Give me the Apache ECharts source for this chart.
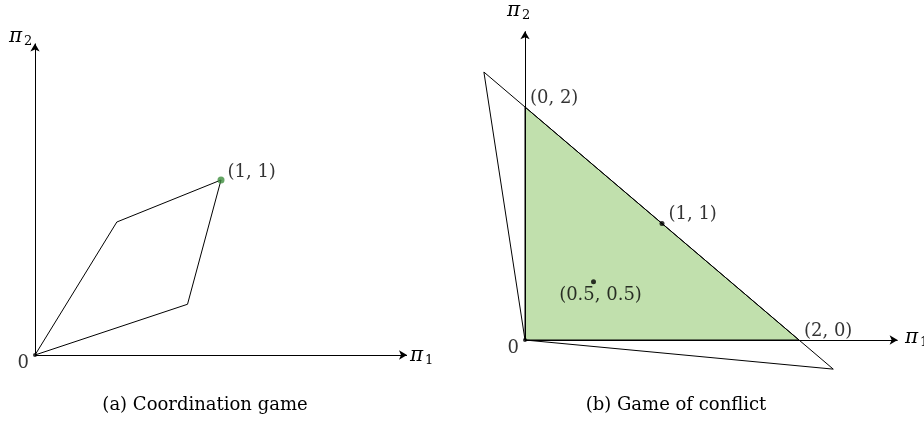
<!DOCTYPE html>
<html>
<head>
<meta charset="utf-8">
<title>Payoff regions</title>
<script src="https://cdn.jsdelivr.net/npm/echarts@6/dist/echarts.min.js"></script>
<style>
  html, body { margin: 0; padding: 0; background: #ffffff; }
  #chart { width: 924px; height: 424px; }
</style>
</head>
<body>
<div id="chart"></div>
<script>
// (a) Coordination game: payoff polygon and the equilibrium point
const coordPolygon = [[0, 0], [0.44, 0.76], [1, 1], [0.82, 0.29]];
const coordEquilibrium = [[1, 1]];
const coordAxisEnds = [2.0, 1.78];           // arrow tips of π1 / π2 axes

// (b) Game of conflict: feasible (shaded) triangle, outer triangle, marked points
const conflictShaded = [[0, 0], [0, 2], [2, 0]];
const conflictOuter = [[0, 0], [-0.3, 2.3], [2.25, -0.25]];
const conflictCorners = [[0, 2], [2, 0]];
const conflictCornerLabels = ['(0, 2)', '(2, 0)'];
const conflictPoints = [[1, 1], [0.5, 0.5]];
const conflictPointLabels = ['(1, 1)', '(0.5, 0.5)'];
const conflictAxisEnds = [2.72, 2.65];

const captions = ['(a) Coordination game', '(b) Game of conflict'];
const axisSymbol = 'π';
const axisIndices = ['1', '2'];

const FONT = 'DejaVu Serif';
const LABEL_SIZE = 18;

const chart = echarts.init(document.getElementById('chart'), null, { renderer: 'canvas' });

function hiddenAxis(gridIndex, min, max) {
  return {
    type: 'value', gridIndex, min, max,
    axisLine: { show: false }, axisTick: { show: false },
    axisLabel: { show: false }, splitLine: { show: false }
  };
}

function polygonSeries(idx, points, style, z) {
  return {
    type: 'custom', xAxisIndex: idx, yAxisIndex: idx, z,
    silent: true, animation: false,
    data: [0],
    renderItem: (params, api) => ({
      type: 'polygon',
      shape: { points: points.map(p => api.coord(p)) },
      style
    })
  };
}

// axis arrows drawn from the origin
function axisArrows(idx, ends) {
  return {
    type: 'line', xAxisIndex: idx, yAxisIndex: idx, data: [], z: 5,
    markLine: {
      silent: true, animation: false,
      symbol: ['none', 'arrow'], symbolSize: [7, 8],
      label: { show: false },
      lineStyle: { color: '#000', width: 1, type: 'solid' },
      data: [
        [{ coord: [0, 0] }, { coord: [ends[0], 0] }],
        [{ coord: [0, 0] }, { coord: [0, ends[1]] }]
      ]
    }
  };
}

function textLabel(text, extra) {
  return Object.assign({
    show: true, formatter: text, color: '#000',
    fontFamily: FONT, fontSize: LABEL_SIZE
  }, extra);
}

// π with a subscript index, placed by the left edge and vertical centre of π
function axisName(x, y, index) {
  return [
    { type: 'text', x, y, style: { text: axisSymbol, font: 'italic 20px "' + FONT + '"', fill: '#000', verticalAlign: 'middle' } },
    { type: 'text', x: x + 15, y: y + 5, style: { text: index, font: '13px "' + FONT + '"', fill: '#000', verticalAlign: 'middle' } }
  ];
}

const option = {
  backgroundColor: '#ffffff',
  animation: false,
  grid: [
    { left: 35, width: 372, top: 40, height: 315 },            // x 0..2, y 0..1.8
    { left: 470.2, width: 438.4, top: 13.8, height: 372.8 }    // x -0.4..2.8, y -0.4..2.8
  ],
  xAxis: [hiddenAxis(0, 0, 2), hiddenAxis(1, -0.4, 2.8)],
  yAxis: [hiddenAxis(0, 0, 1.8), hiddenAxis(1, -0.4, 2.8)],
  series: [
    // ---- panel (a)
    polygonSeries(0, coordPolygon, { fill: 'none', stroke: '#000', lineWidth: 1 }, 3),
    axisArrows(0, coordAxisEnds),
    {
      type: 'scatter', xAxisIndex: 0, yAxisIndex: 0, z: 10,
      data: coordEquilibrium, symbolSize: 7,
      itemStyle: { color: '#3f8f3f' },
      label: textLabel('(1, 1)', { position: 'right', distance: 3, offset: [0, -8] })
    },
    {
      type: 'scatter', xAxisIndex: 0, yAxisIndex: 0, z: 10,
      data: [[0, 0]], symbolSize: 4, itemStyle: { color: '#000' },
      label: textLabel('0', { position: 'left', distance: 4, offset: [0, 8] })
    },
    // ---- panel (b)
    polygonSeries(1, conflictShaded, { fill: '#c1e0ad', stroke: '#000', lineWidth: 1 }, 2),
    polygonSeries(1, conflictOuter, { fill: 'none', stroke: '#000', lineWidth: 1 }, 3),
    axisArrows(1, conflictAxisEnds),
    {
      type: 'scatter', xAxisIndex: 1, yAxisIndex: 1, z: 10,
      data: conflictCorners.map((p, i) => ({ value: p, name: conflictCornerLabels[i] })),
      symbolSize: 0,
      label: textLabel('{b}', { position: 'right', distance: 5, offset: [0, -9] })
    },
    {
      type: 'scatter', xAxisIndex: 1, yAxisIndex: 1, z: 10,
      data: [
        { value: conflictPoints[0], name: conflictPointLabels[0],
          label: { position: 'right', distance: 4, offset: [0, -9] } },
        { value: conflictPoints[1], name: conflictPointLabels[1],
          label: { position: 'bottom', distance: 3, offset: [7, -1] } }
      ],
      symbolSize: 5, itemStyle: { color: '#000' },
      label: textLabel('{b}', {})
    },
    {
      type: 'scatter', xAxisIndex: 1, yAxisIndex: 1, z: 10,
      data: [[0, 0]], symbolSize: 4, itemStyle: { color: '#000' },
      label: textLabel('0', { position: 'left', distance: 4, offset: [0, 8] })
    }
  ],
  graphic: [
    ...axisName(9, 37, axisIndices[1]),
    ...axisName(410, 356, axisIndices[0]),
    ...axisName(507, 11, axisIndices[1]),
    ...axisName(905, 338, axisIndices[0]),
    // captions
    { type: 'text', x: 205, y: 405, style: { text: captions[0], font: '18px "' + FONT + '"', fill: '#000', align: 'center', verticalAlign: 'middle' } },
    { type: 'text', x: 676, y: 405, style: { text: captions[1], font: '18px "' + FONT + '"', fill: '#000', align: 'center', verticalAlign: 'middle' } }
  ]
};

chart.setOption(option);
</script>
</body>
</html>
